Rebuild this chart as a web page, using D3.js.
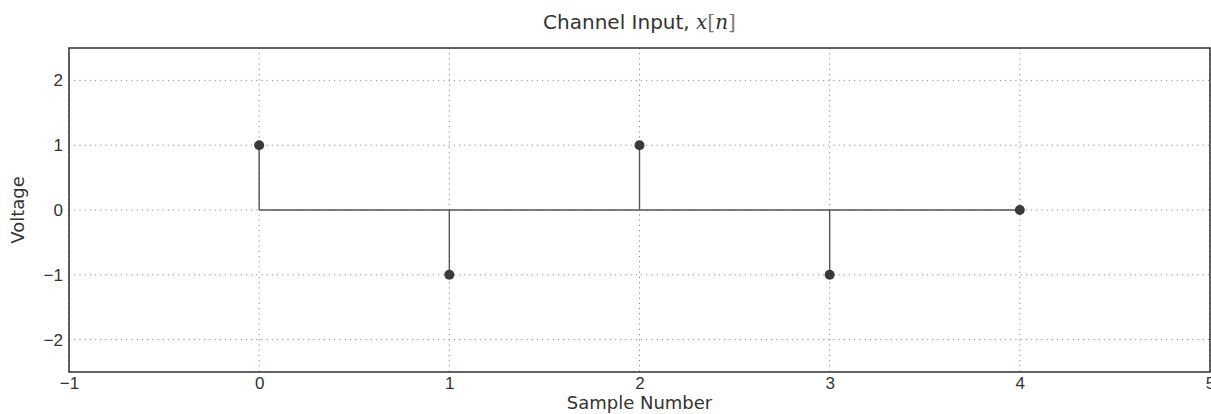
<!DOCTYPE html>
<html lang="en">
<head>
<meta charset="UTF-8">
<title>Channel Input</title>
<script src="https://cdn.jsdelivr.net/npm/d3@7.8.5/dist/d3.min.js"></script>
<style>
  body { margin: 0; background: #fff; }
  svg { display: block; font-family: "DejaVu Sans", sans-serif; }
  .grid line { stroke: #888; stroke-dasharray: 1.2, 4; stroke-width: 1; }
  .tick text { fill: #333; font-size: 17px; }
</style>
</head>
<body>
<svg id="chart" width="1211" height="414"></svg>
<script>
// samples of the channel input x[n]
const samples = [0, 1, 2, 3, 4];
const voltage = [1, -1, 1, -1, 0];
const xTicks = [-1, 0, 1, 2, 3, 4, 5];
const yTicks = [-2, -1, 0, 1, 2];

const svg = d3.select("#chart"),
      margin = { top: 48, right: 1, bottom: 42, left: 69 },
      width = 1211 - margin.left - margin.right,
      height = 414 - margin.top - margin.bottom;

const x = d3.scaleLinear().domain([-1, 5]).range([margin.left, margin.left + width]);
const y = d3.scaleLinear().domain([-2.5, 2.5]).range([margin.top + height, margin.top]);

const minus = d => d < 0 ? "\u2212" + Math.abs(d) : d;

// grid
const grid = svg.append("g").attr("class", "grid");
grid.selectAll(".gx").data(xTicks).enter().append("line")
    .attr("x1", d => x(d)).attr("x2", d => x(d))
    .attr("y1", margin.top).attr("y2", margin.top + height);
grid.selectAll(".gy").data(yTicks).enter().append("line")
    .attr("x1", margin.left).attr("x2", margin.left + width)
    .attr("y1", d => y(d)).attr("y2", d => y(d));

// axes
svg.append("g")
    .attr("transform", `translate(0,${margin.top + height})`)
    .call(d3.axisBottom(x).tickValues(xTicks).tickSize(0).tickPadding(5).tickFormat(minus))
    .call(g => g.select(".domain").remove());

svg.append("g")
    .attr("transform", `translate(${margin.left},0)`)
    .call(d3.axisLeft(y).tickValues(yTicks).tickSize(0).tickPadding(6).tickFormat(minus))
    .call(g => g.select(".domain").remove());

// baseline
svg.append("line")
    .attr("x1", x(d3.min(samples))).attr("x2", x(d3.max(samples)))
    .attr("y1", y(0)).attr("y2", y(0))
    .attr("stroke", "#555").attr("stroke-width", 1.4);

// stems
svg.append("g").selectAll("line").data(samples).enter().append("line")
    .attr("x1", d => x(d)).attr("x2", d => x(d))
    .attr("y1", y(0)).attr("y2", (d, i) => y(voltage[i]))
    .attr("stroke", "#555").attr("stroke-width", 1.4);

// markers
svg.append("g").selectAll("circle").data(samples).enter().append("circle")
    .attr("cx", d => x(d)).attr("cy", (d, i) => y(voltage[i]))
    .attr("r", 5).attr("fill", "#3a3a3a");

// frame
svg.append("rect")
    .attr("x", margin.left).attr("y", margin.top)
    .attr("width", width).attr("height", height)
    .attr("fill", "none").attr("stroke", "#222").attr("stroke-width", 1.4);

// title
const title = svg.append("text")
    .attr("x", margin.left + width / 2).attr("y", 29)
    .attr("text-anchor", "middle").attr("fill", "#333")
    .style("font-size", "20px");
title.append("tspan").text("Channel Input, ");
title.append("tspan").style("font-family", "DejaVu Serif, serif").style("font-style", "italic").text("x");
title.append("tspan").style("font-family", "DejaVu Serif, serif").attr("fill", "#777").text("[");
title.append("tspan").style("font-family", "DejaVu Serif, serif").style("font-style", "italic").text("n");
title.append("tspan").style("font-family", "DejaVu Serif, serif").attr("fill", "#777").text("]");

// axis labels
svg.append("text")
    .attr("x", margin.left + width / 2).attr("y", 409)
    .attr("text-anchor", "middle").attr("fill", "#333")
    .style("font-size", "18px").text("Sample Number");

svg.append("text")
    .attr("transform", `translate(24,${margin.top + height / 2}) rotate(-90)`)
    .attr("text-anchor", "middle").attr("fill", "#333")
    .style("font-size", "18px").text("Voltage");
</script>
</body>
</html>
